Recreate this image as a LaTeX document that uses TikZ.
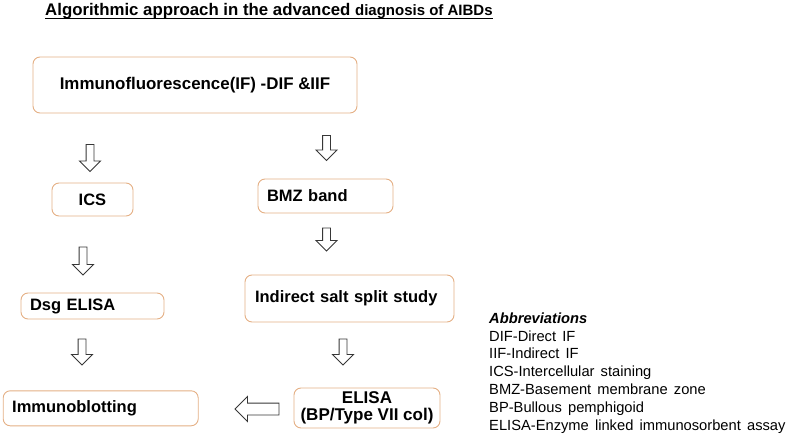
\documentclass[tikz,border=0pt]{standalone}
\usepackage{fontspec}
\setmainfont{Liberation Sans}
\usetikzlibrary{shapes.arrows}
\definecolor{boxline}{RGB}{228,175,132}
\definecolor{arrline}{RGB}{55,55,55}
\newcommand{\boxfont}{\fontsize{16.5}{17.5}\selectfont\bfseries}
\newcommand{\abbrfont}{\fontsize{14.7}{17.8}\selectfont\spaceskip=0.42em\relax}

\begin{document}
\begin{tikzpicture}[x=1pt, y=-1pt,
		box/.style={draw=boxline, line width=0.9pt, rounded corners=7pt, font=\boxfont, inner sep=0pt},
		lbox/.style={box, align=left, inner xsep=9pt},
		downarr/.style={single arrow, draw=arrline, fill=white, line width=0.9pt, inner xsep=0pt, inner ysep=3.5pt,
			single arrow head extend=6.5pt, minimum height=#1, rotate=-90},
		leftarr/.style={single arrow, draw=arrline, fill=white, line width=0.9pt, inner xsep=0pt, inner ysep=5.5pt,
			single arrow head extend=6.5pt, minimum height=#1, rotate=180}]
		\useasboundingbox (0,0) rectangle (790,438);
		\node[anchor=base west, inner sep=0pt] (title) at (45,16)
			{\fontsize{16.8}{18}\selectfont\bfseries Algorithmic approach in the advanced \fontsize{15}{16}\selectfont diagnosis of AIBDs};
		\draw[line width=1.2pt] ([yshift=-2.6pt]title.base west) -- ([yshift=-2.6pt]title.base east);
		% left column
		\node[box, font=\fontsize{16.9}{19}\selectfont\bfseries, minimum width=324pt, minimum height=56pt] (if) at (195,85)
			{Immunofluorescence(IF) -DIF \&IIF};
		\node[box, minimum width=81pt, minimum height=33pt] (ics) at (92.5,199.5) {ICS};
		\node[lbox, text width=125pt, minimum height=26pt] (dsg) at (92.5,306) {Dsg ELISA};
		\node[lbox, text width=177pt, minimum height=35pt] (blot) at (100.7,408.3) {Immunoblotting};
		% right column
		\node[lbox, text width=117pt, minimum height=34pt] (bmz) at (325.5,196) {BMZ band};
		\node[lbox, inner xsep=10pt, text width=189pt, minimum height=47pt] (salt) at (349.5,298.5) {Indirect salt split study};
		\node[box, font=\fontsize{17}{17.5}\selectfont\bfseries, align=center, minimum width=146pt, minimum height=40pt] (elisa) at (367,408)
			{ELISA\\(BP/Type VII col)};
		% block arrows
		\node[downarr=27pt] (a1) at (90,156) {};
		\node[downarr=25pt] (a2) at (326.5,146) {};
		\node[downarr=28pt] (a3) at (83,259) {};
		\node[downarr=23pt] (a4) at (326.5,237.5) {};
		\node[downarr=26pt] (a5) at (82,350) {};
		\node[downarr=26pt] (a6) at (343,350) {};
		\node[leftarr=44pt] (a7) at (260,409) {};
		% abbreviations
		\node[anchor=north west, inner sep=0pt, align=left, font=\abbrfont] (abbr) at (489,312.5)
			{\textbf{\textit{Abbreviations}}\\DIF-Direct IF\\IIF-Indirect IF\\ICS-Intercellular staining\\
			 BMZ-Basement membrane zone\\BP-Bullous pemphigoid\\ELISA-Enzyme linked immunosorbent assay};
	\end{tikzpicture}
\end{document}
